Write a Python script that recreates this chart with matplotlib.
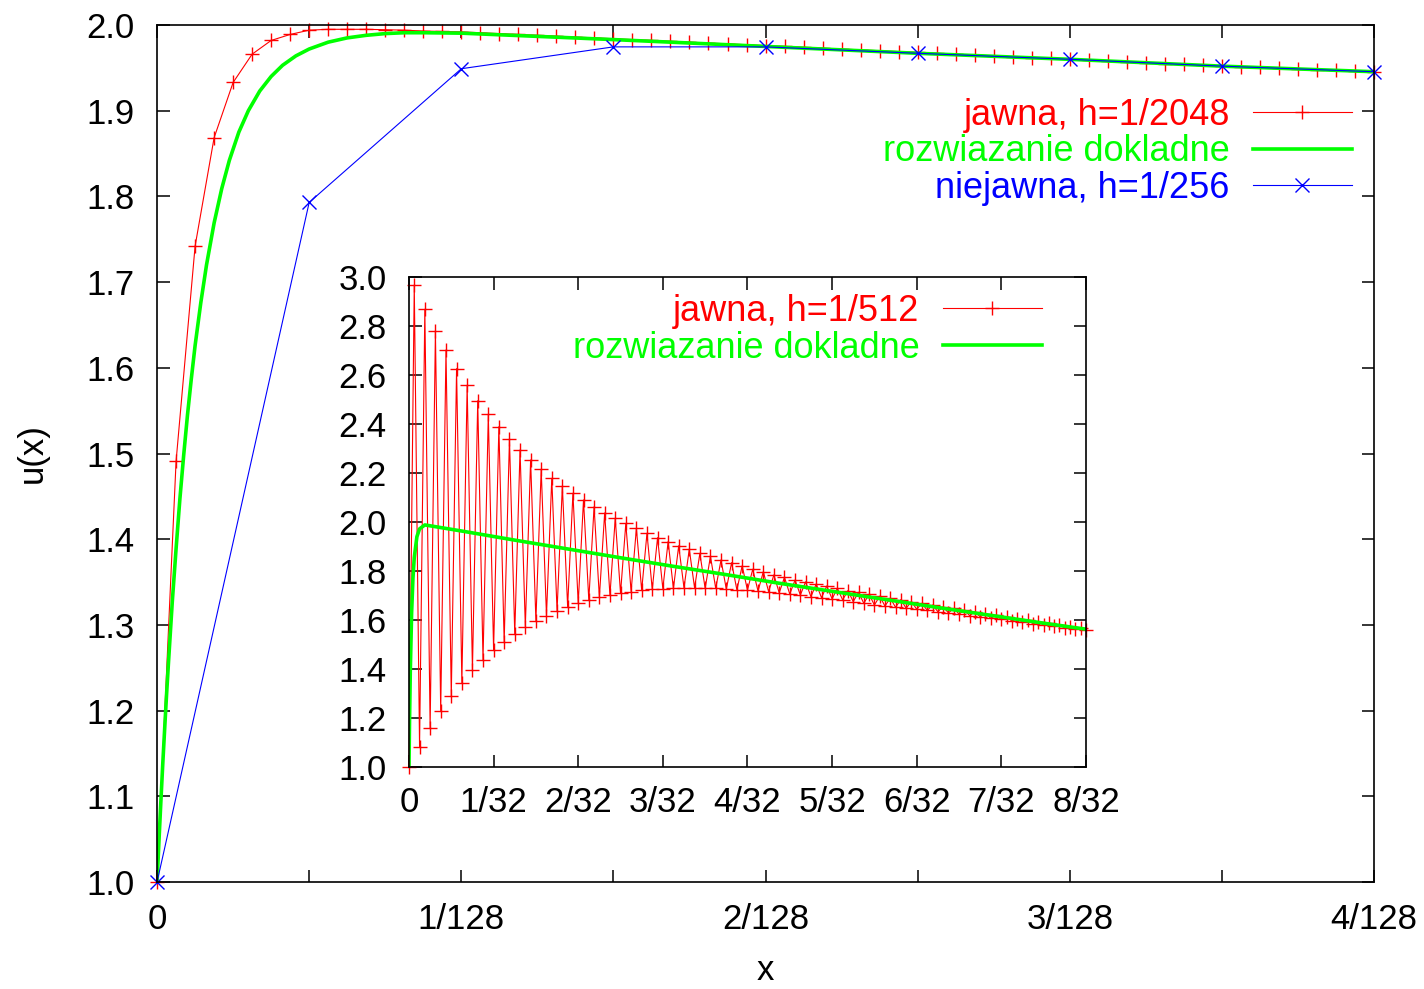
import numpy as np
import matplotlib
matplotlib.use("Agg")
import matplotlib.pyplot as plt

plt.rcParams['font.family'] = ['Liberation Sans', 'DejaVu Sans']

# main plot: explicit scheme h=1/2048 (values at k/2048, k=0..64)
jawna_h = 1 / 2048
u_jawna = [1.0, 1.491, 1.742, 1.8685, 1.933, 1.966, 1.982, 1.989, 1.994, 1.995,
           1.995, 1.995, 1.9945, 1.994, 1.993, 1.9925, 1.992, 1.991, 1.990, 1.989,
           1.988, 1.987, 1.986, 1.985, 1.984, 1.983, 1.982, 1.981, 1.980, 1.979,
           1.978, 1.977, 1.976, 1.975, 1.974, 1.973, 1.972, 1.971, 1.970, 1.969,
           1.968, 1.967, 1.966, 1.965, 1.964, 1.963, 1.962, 1.961, 1.960, 1.959,
           1.958, 1.957, 1.956, 1.955, 1.954, 1.953, 1.952, 1.9515, 1.951, 1.950,
           1.949, 1.948, 1.947, 1.946, 1.9455]

# implicit scheme h=1/256
niejawna_h = 1 / 256
u_niejawna = [1.0, 1.793, 1.949, 1.9745, 1.9745, 1.967, 1.960, 1.952, 1.9455]

# exact solution, main plot (x in units of 1/2048)
exact_main_k = [0, 0.1, 0.2, 0.3, 0.4, 0.5, 0.6, 0.8, 1.0, 1.2, 1.4, 1.6, 1.8, 2.0,
                2.3, 2.6, 3.0, 3.4, 3.8, 4.3, 4.8, 5.4, 6.0, 6.6, 7.3, 8.0, 9.0, 10,
                11, 12, 13, 14, 16, 24, 32, 40, 48, 56, 64]
exact_main_u = [1.0, 1.048, 1.094, 1.138, 1.179, 1.219, 1.256, 1.327, 1.389, 1.447,
                1.498, 1.545, 1.587, 1.626, 1.676, 1.720, 1.769, 1.809, 1.842, 1.875,
                1.900, 1.923, 1.940, 1.953, 1.964, 1.972, 1.980, 1.985, 1.988, 1.990,
                1.991, 1.991, 1.9905, 1.983, 1.975, 1.967, 1.960, 1.952, 1.9455]

# inset: explicit scheme h=1/512, even and odd nodes
inset_h = 1 / 512
inset_even = [1.0, 1.083, 1.160, 1.229, 1.290, 1.344, 1.395, 1.437, 1.478, 1.511,
              1.544, 1.573, 1.597, 1.618, 1.638, 1.654, 1.668, 1.682, 1.693, 1.701,
              1.709, 1.716, 1.721, 1.725, 1.728, 1.729, 1.731, 1.731, 1.729, 1.729,
              1.726, 1.723, 1.722,
              1.718, 1.716, 1.711, 1.706, 1.702, 1.695, 1.691, 1.686, 1.682, 1.675,
              1.668, 1.661, 1.657, 1.652,
              1.648, 1.644, 1.639, 1.634, 1.629, 1.624, 1.618, 1.613, 1.607, 1.602,
              1.596, 1.590, 1.585, 1.579, 1.574, 1.568, 1.563, 1.560]
inset_odd = [2.967, 2.868, 2.780, 2.702, 2.626, 2.558, 2.495, 2.440, 2.389, 2.339,
             2.294, 2.253, 2.215, 2.178, 2.147, 2.117, 2.090, 2.062, 2.037, 2.015,
             1.994, 1.974, 1.954, 1.936, 1.920, 1.903, 1.889, 1.872, 1.860, 1.845,
             1.834, 1.821,
             1.807, 1.797, 1.784, 1.774, 1.763, 1.756, 1.747, 1.739, 1.729, 1.720,
             1.713, 1.705, 1.697, 1.689, 1.683, 1.675,
             1.668, 1.661, 1.654, 1.647, 1.640, 1.633, 1.626, 1.619, 1.612, 1.606,
             1.599, 1.592, 1.586, 1.579, 1.573, 1.567]

# exact solution in the inset (x in units of 1/512)
exact_inset_k = [0, 0.1, 0.25, 0.5, 0.75, 1.0, 1.5, 2.0, 3, 10, 20, 30, 40, 50, 60,
                 70, 80, 90, 100, 110, 120, 128]
exact_inset_u = [1.0, 1.18, 1.39, 1.63, 1.77, 1.855, 1.94, 1.972, 1.988, 1.963, 1.926,
                 1.890, 1.854, 1.819, 1.785, 1.750, 1.717, 1.684, 1.651, 1.619, 1.587,
                 1.5625]

main_xticklabels = ['0', '1/128', '2/128', '3/128', '4/128']
inset_xticklabels = ['0', '1/32', '2/32', '3/32', '4/32', '5/32', '6/32', '7/32', '8/32']

RED, GREEN, BLUE = '#ff0000', '#00ff00', '#0000ff'
FS = 25
LEG_FS = 26

x_jawna = np.arange(len(u_jawna)) * jawna_h
x_niejawna = np.arange(len(u_niejawna)) * niejawna_h
x_exact_main = np.array(exact_main_k) * jawna_h

u_inset = np.empty(len(inset_even) + len(inset_odd))
u_inset[0::2] = inset_even
u_inset[1::2] = inset_odd
x_inset = np.arange(len(u_inset)) * inset_h
x_exact_inset = np.array(exact_inset_k) * inset_h

fig = plt.figure(figsize=(14.24, 9.89), dpi=100)
ax = fig.add_axes([0.1103, 0.1082, 0.8546, 0.8665])

ax.plot(x_jawna, u_jawna, color=RED, lw=0.8, marker='+', ms=10, mew=1.0,
        label='jawna, h=1/2048', clip_on=False)
ax.plot(x_exact_main, exact_main_u, color=GREEN, lw=2.6, label='rozwiazanie dokladne')
ax.plot(x_niejawna, u_niejawna, color=BLUE, lw=0.8, marker='x', ms=10, mew=1.0,
        label='niejawna, h=1/256', clip_on=False)

ax.set_xlim(0, 4 / 128)
ax.set_ylim(1.0, 2.0)
ax.set_xticks([i / 128 for i in range(5)], main_xticklabels)
ax.set_xticks([i / 256 for i in (1, 3, 5, 7)], minor=True)
yt = np.round(np.arange(1.0, 2.001, 0.1), 1)
ax.set_yticks(yt, [f'{v:.1f}' for v in yt])
ax.tick_params(which='both', direction='in', top=True, right=True, length=9,
               width=1.1, labelsize=FS)
ax.tick_params(axis='x', pad=15)
ax.tick_params(axis='y', pad=16)
for s in ax.spines.values():
    s.set_linewidth(1.2)
ax.set_xlabel('x', fontsize=FS, labelpad=13)
ax.set_ylabel('u(x)', fontsize=FS, labelpad=27)

ax.legend(loc='upper right', bbox_to_anchor=(0.982, 0.915), frameon=False,
          markerfirst=False, handlelength=2.75, handletextpad=0.64,
          labelspacing=0.04, borderpad=0, borderaxespad=0, labelcolor='linecolor',
          fontsize=LEG_FS, numpoints=1)

# inset
axin = fig.add_axes([0.2872, 0.2245, 0.4754, 0.4954])
axin.plot(x_inset, u_inset, color=RED, lw=0.8, marker='+', ms=10, mew=1.0,
          label='jawna, h=1/512', clip_on=False)
axin.plot(x_exact_inset, exact_inset_u, color=GREEN, lw=2.6,
          label='rozwiazanie dokladne')
axin.set_xlim(0, 8 / 32)
axin.set_ylim(1.0, 3.0)
axin.set_xticks([i / 32 for i in range(9)], inset_xticklabels)
yt2 = np.round(np.arange(1.0, 3.001, 0.2), 1)
axin.set_yticks(yt2, [f'{v:.1f}' for v in yt2])
axin.tick_params(which='both', direction='in', top=True, right=True, length=9,
                 width=1.1, labelsize=FS)
axin.tick_params(axis='x', pad=14)
axin.tick_params(axis='y', pad=16)
for s in axin.spines.values():
    s.set_linewidth(1.2)
axin.legend(loc='upper right', bbox_to_anchor=(0.935, 0.966), frameon=False,
            markerfirst=False, handlelength=2.75, handletextpad=0.64,
            labelspacing=0.06, borderpad=0, borderaxespad=0, labelcolor='linecolor',
            fontsize=LEG_FS, numpoints=1)

fig.savefig('out.png', dpi=100)
